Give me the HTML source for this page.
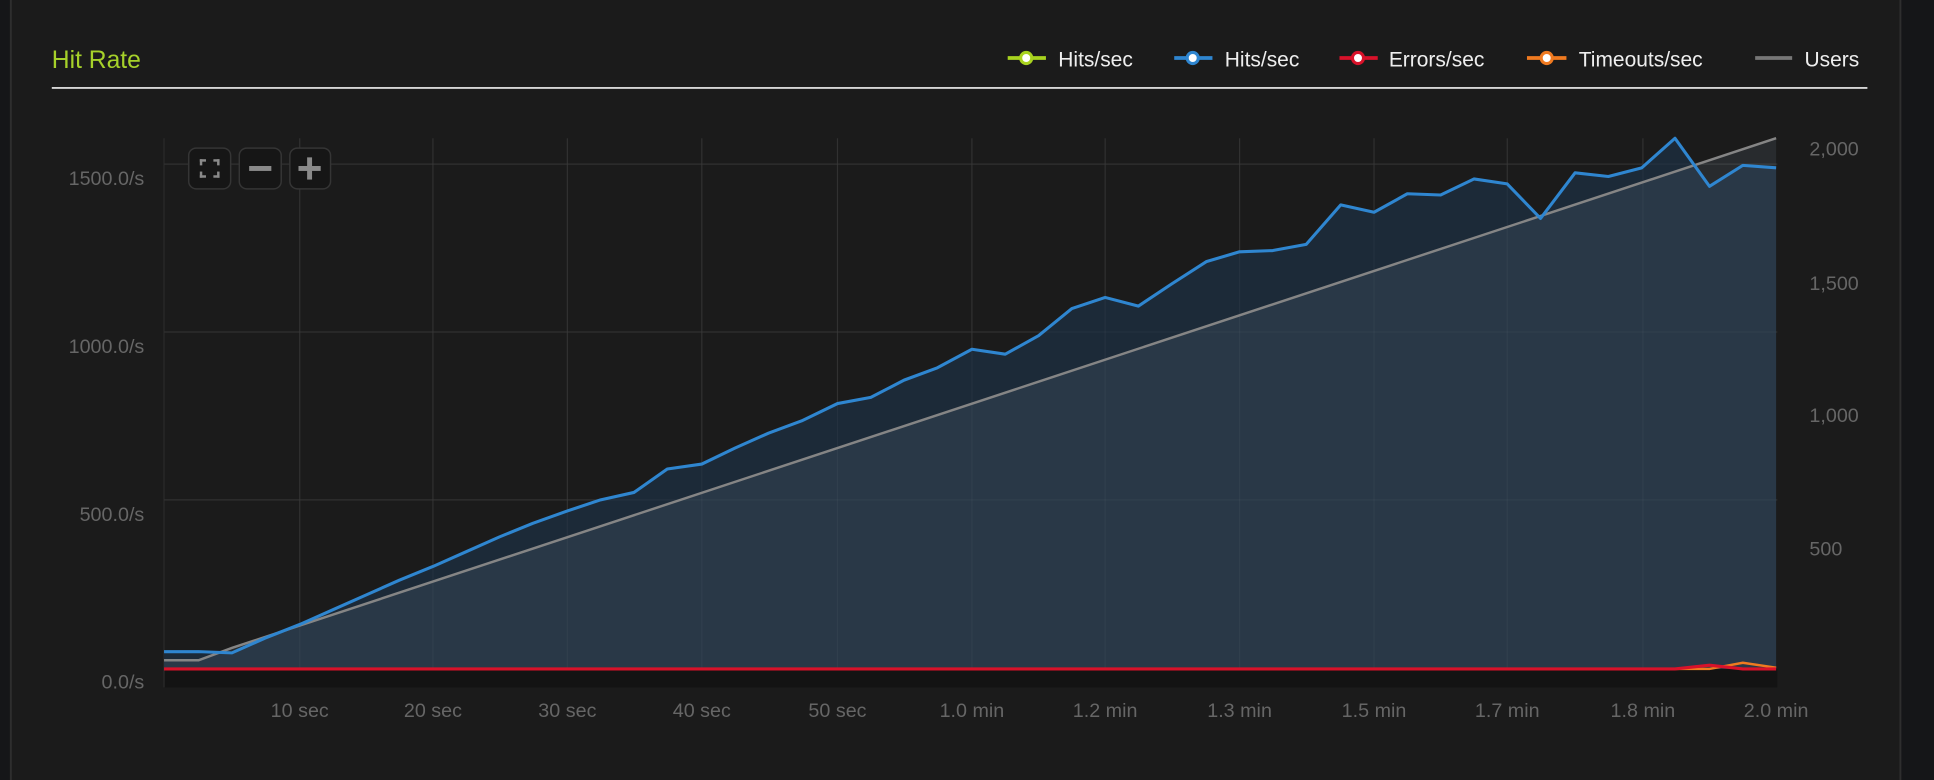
<!DOCTYPE html>
<html><head><meta charset="utf-8"><style>
html,body{margin:0;padding:0;background:#1b1b1b;width:1934px;height:780px;overflow:hidden}
svg{display:block}
text{font-family:"Liberation Sans",sans-serif}
</style></head><body>
<svg width="1934" height="780" viewBox="0 0 1568 632" preserveAspectRatio="none">
<rect width="1568" height="632" fill="#1b1b1b"/>
<rect x="0" y="0" width="8" height="632" fill="#151618"/>
<rect x="8" y="0" width="1.6" height="632" fill="#2e2e2e"/>
<rect x="1540" y="0" width="1.6" height="632" fill="#2e2e2e"/>
<rect x="1541.6" y="0" width="27" height="632" fill="#151618"/>
<text x="42" y="55" font-size="20" fill="#a6d12a">Hit Rate</text>
<rect x="42" y="70.5" width="1472" height="1.5" fill="#d8d8d8"/>
<g font-size="17" fill="#eeeeee">
<line x1="817" y1="47" x2="848" y2="47" stroke="#a8d31f" stroke-width="3"/><circle cx="832" cy="47" r="4.5" fill="#fff" stroke="#a8d31f" stroke-width="2.5"/><text x="858" y="54">Hits/sec</text>
<line x1="952" y1="47" x2="983" y2="47" stroke="#2f86d0" stroke-width="3"/><circle cx="967" cy="47" r="4.5" fill="#fff" stroke="#2f86d0" stroke-width="2.5"/><text x="993" y="54">Hits/sec</text>
<line x1="1086" y1="47" x2="1117" y2="47" stroke="#d8122a" stroke-width="3"/><circle cx="1101" cy="47" r="4.5" fill="#fff" stroke="#d8122a" stroke-width="2.5"/><text x="1126" y="54">Errors/sec</text>
<line x1="1238" y1="47" x2="1270" y2="47" stroke="#f07a20" stroke-width="3"/><circle cx="1254" cy="47" r="4.5" fill="#fff" stroke="#f07a20" stroke-width="2.5"/><text x="1280" y="54">Timeouts/sec</text>
<line x1="1423" y1="47" x2="1453" y2="47" stroke="#777" stroke-width="3"/><text x="1463" y="54">Users</text>
</g>
<rect x="133" y="542" width="1308" height="15" fill="#131313"/>
<g stroke="#2a2a2a" stroke-width="1">
<line x1="133" y1="133" x2="1441" y2="133"/><line x1="133" y1="269" x2="1441" y2="269"/><line x1="133" y1="405" x2="1441" y2="405"/>
<line x1="133" y1="112" x2="133" y2="557"/><line x1="243" y1="112" x2="243" y2="542"/><line x1="351" y1="112" x2="351" y2="542"/><line x1="460" y1="112" x2="460" y2="542"/><line x1="569" y1="112" x2="569" y2="542"/><line x1="679" y1="112" x2="679" y2="542"/><line x1="788" y1="112" x2="788" y2="542"/><line x1="896" y1="112" x2="896" y2="542"/><line x1="1005" y1="112" x2="1005" y2="542"/><line x1="1114" y1="112" x2="1114" y2="542"/><line x1="1222" y1="112" x2="1222" y2="542"/><line x1="1332" y1="112" x2="1332" y2="542"/>
</g>
<polygon fill="#1c2a38" points="133,542 133,528 161,528 188,529 215,517 243,506 270,494 297,482 324,470 351,459 378,447 405,435 432,424 460,414 487,405 514,399 541,380 569,376 596,363 623,351 650,341 679,327 706,322 733,308 760,298 788,283 815,287 842,272 869,250 896,241 923,248 950,230 978,212 1005,204 1032,203 1059,198 1087,166 1114,172 1141,157 1168,158 1195,145 1222,149 1249,177 1277,140 1304,143 1331,136 1358,112 1386,151 1413,134 1440,136 1440,542"/>
<polygon fill="rgba(120,140,160,0.15)" points="133,542 133,535 161,535 188,525 1440,112 1440,542"/>
<g stroke="rgba(255,255,255,0.035)" stroke-width="1"><line x1="133" y1="133" x2="1441" y2="133"/><line x1="133" y1="269" x2="1441" y2="269"/><line x1="133" y1="405" x2="1441" y2="405"/><line x1="243" y1="112" x2="243" y2="542"/><line x1="351" y1="112" x2="351" y2="542"/><line x1="460" y1="112" x2="460" y2="542"/><line x1="569" y1="112" x2="569" y2="542"/><line x1="679" y1="112" x2="679" y2="542"/><line x1="788" y1="112" x2="788" y2="542"/><line x1="896" y1="112" x2="896" y2="542"/><line x1="1005" y1="112" x2="1005" y2="542"/><line x1="1114" y1="112" x2="1114" y2="542"/><line x1="1222" y1="112" x2="1222" y2="542"/><line x1="1332" y1="112" x2="1332" y2="542"/></g>
<polyline fill="none" stroke="#858585" stroke-width="2" points="133,535 161,535 188,525 1440,112"/>
<polyline fill="none" stroke="#2f86d0" stroke-width="2.5" stroke-linejoin="round" points="133,528 161,528 188,529 215,517 243,506 270,494 297,482 324,470 351,459 378,447 405,435 432,424 460,414 487,405 514,399 541,380 569,376 596,363 623,351 650,341 679,327 706,322 733,308 760,298 788,283 815,287 842,272 869,250 896,241 923,248 950,230 978,212 1005,204 1032,203 1059,198 1087,166 1114,172 1141,157 1168,158 1195,145 1222,149 1249,177 1277,140 1304,143 1331,136 1358,112 1386,151 1413,134 1440,136"/>
<polyline fill="none" stroke="#f07a20" stroke-width="2" points="1358,542 1386,542 1413,537 1440,541"/>
<polyline fill="none" stroke="#d8122a" stroke-width="2.5" points="133,542 1358,542 1386,539 1413,542 1440,542"/>
<g fill="#161616" stroke="#353535" stroke-width="1.2">
<rect x="153" y="120" width="34" height="33" rx="6"/><rect x="194" y="120" width="34" height="33" rx="6"/><rect x="235" y="120" width="33" height="33" rx="6"/>
</g>
<g fill="#8a8a8a"><rect x="202" y="134.5" width="18" height="4"/><rect x="242" y="134.5" width="18" height="4"/><rect x="249" y="127.5" width="4" height="18"/>
<rect x="162" y="129" width="5" height="2"/><rect x="162" y="129" width="2" height="5"/><rect x="173" y="129" width="5" height="2"/><rect x="176" y="129" width="2" height="5"/><rect x="162" y="142" width="5" height="2"/><rect x="162" y="139" width="2" height="5"/><rect x="173" y="142" width="5" height="2"/><rect x="176" y="139" width="2" height="5"/></g>
<g font-size="16" fill="#666" text-anchor="end">
<text x="117" y="150">1500.0/s</text><text x="117" y="286">1000.0/s</text><text x="117" y="422">500.0/s</text><text x="117" y="558">0.0/s</text>
</g>
<g font-size="16" fill="#666" text-anchor="start">
<text x="1467" y="126">2,000</text><text x="1467" y="235">1,500</text><text x="1467" y="342">1,000</text><text x="1467" y="450">500</text>
</g>
<g font-size="16" fill="#666" text-anchor="middle">
<text x="243" y="581">10 sec</text><text x="351" y="581">20 sec</text><text x="460" y="581">30 sec</text><text x="569" y="581">40 sec</text><text x="679" y="581">50 sec</text><text x="788" y="581">1.0 min</text><text x="896" y="581">1.2 min</text><text x="1005" y="581">1.3 min</text><text x="1114" y="581">1.5 min</text><text x="1222" y="581">1.7 min</text><text x="1332" y="581">1.8 min</text><text x="1440" y="581">2.0 min</text>
</g>
</svg>
</body></html>
